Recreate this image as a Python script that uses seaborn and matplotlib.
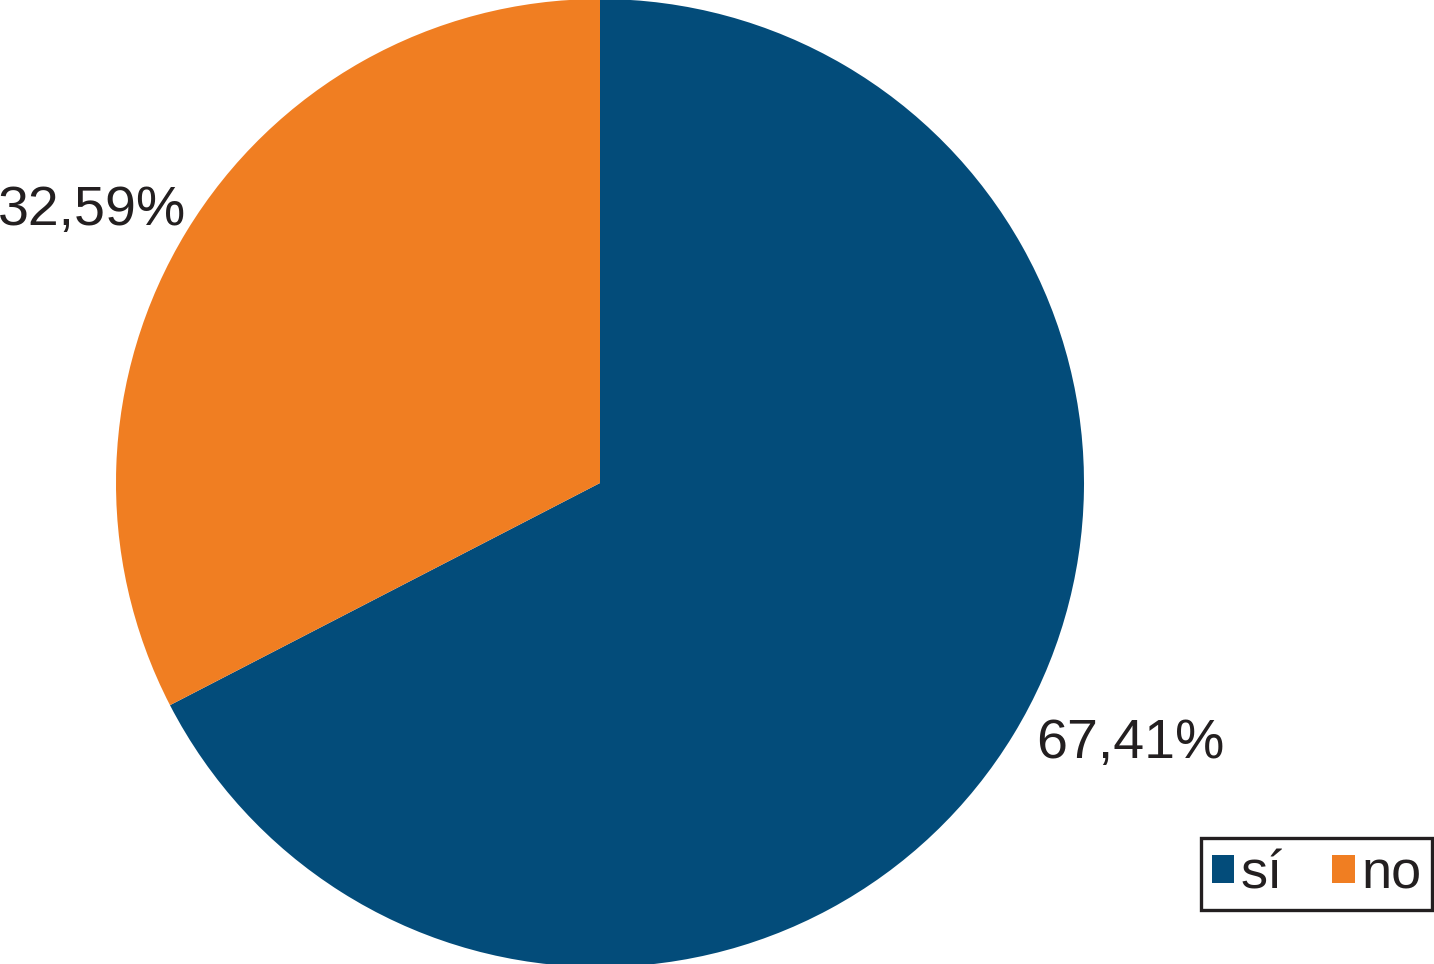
import matplotlib
matplotlib.use("Agg")
import matplotlib.pyplot as plt
import seaborn as sns

# Datos
categorias = ["sí", "no"]
porcentajes = [67.41, 32.59]
colores = ["#034C7A", "#F07E22"]

sns.set_theme(style="white")
plt.rcParams["font.family"] = ["Liberation Sans", "DejaVu Sans"]

fig = plt.figure(figsize=(14.34, 9.64), dpi=100)
# eje cuadrado: centro en (600, 483) px, radio 484 px
ax = fig.add_axes([116 / 1434, -3 / 964, 968 / 1434, 968 / 964])

wedges, textos, pct = ax.pie(
    porcentajes,
    colors=colores,
    startangle=90,
    counterclock=False,
    autopct=lambda p: f"{p:.2f}%".replace(".", ","),
    pctdistance=1.2,
    wedgeprops=dict(linewidth=0),
    textprops=dict(fontsize=40, color="#231F20"),
)
# posición de las etiquetas como en el original
pct[0].set_position((1.095, -0.527))
pct[1].set_position((-1.05, 0.574))
for t in pct:
    t.set_va("center_baseline")

ax.set_xlim(-1, 1)
ax.set_ylim(-1, 1)
ax.set_aspect("equal")
ax.axis("off")

leg = fig.legend(
    wedges, categorias,
    loc="lower right",
    bbox_to_anchor=(1432 / 1434, 54 / 964),
    bbox_transform=fig.transFigure,
    ncol=2,
    fontsize=39,
    frameon=True,
    framealpha=1,
    fancybox=False,
    handlelength=0.42,
    handleheight=0.42,
    handletextpad=0.12,
    columnspacing=0.9,
    borderpad=0.2,
    borderaxespad=0,
)
leg.get_frame().set_edgecolor("#231F20")
leg.get_frame().set_linewidth(2.4)
for t in leg.get_texts():
    t.set_color("#231F20")

plt.savefig("out.png", dpi=100)
plt.close()
